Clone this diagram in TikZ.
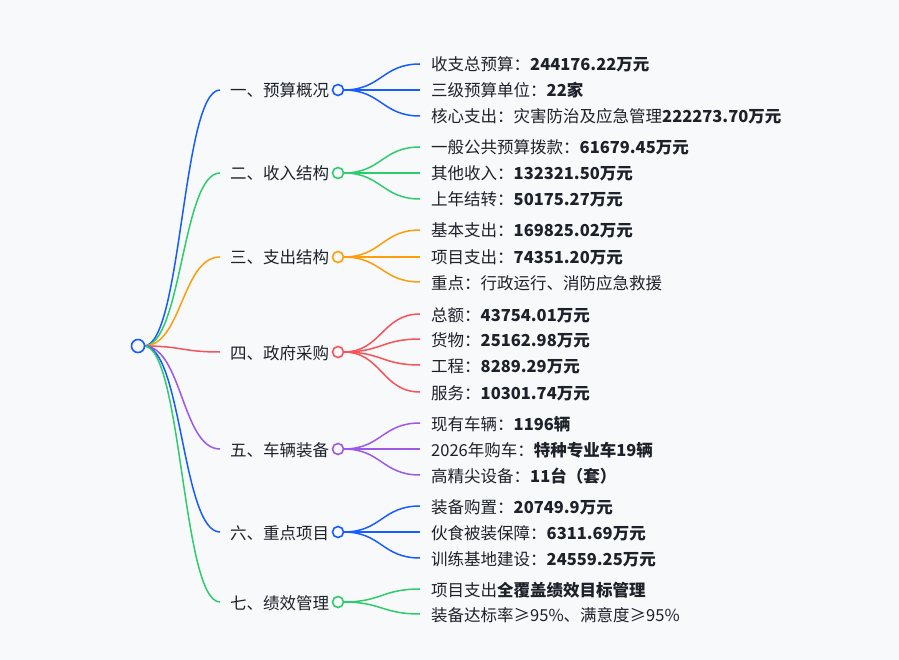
\documentclass[tikz,border=0pt]{standalone}
\usepackage{fontspec}
\setmainfont{Noto Sans CJK SC}
\definecolor{bg}{RGB}{248,249,251}
\definecolor{txt}{RGB}{29,33,41}
\definecolor{cblue}{RGB}{22,93,255}
\definecolor{cgreen}{RGB}{46,204,108}
\definecolor{corange}{RGB}{255,157,10}
\definecolor{cred}{RGB}{245,84,90}
\definecolor{cpurple}{RGB}{155,89,230}
\begin{document}
\begin{tikzpicture}[x=1pt,y=-1pt,
  every node/.style={font=\fontsize{16.5}{18}\selectfont, text=txt, inner ysep=0pt},
  leaf/.style={anchor=west, inner xsep=0pt, text height=1.0em, text depth=0.1em, xshift=11pt, yshift=-2.5pt},
  blabel/.style={anchor=west, inner xsep=0pt, text height=1.0em, text depth=0.1em, xshift=10pt, yshift=-2.5pt},
  knot/.style={circle, draw=#1, fill=bg, line width=1.6pt, minimum size=11pt, inner sep=0pt},
  link/.style={draw=#1, line width=1.5pt},
]
\fill[bg] (0,0) rectangle (899,660);
\useasboundingbox (0,0) rectangle (899,660);

% root
\coordinate (rootc) at (138,346);
% branch anchors
\coordinate (e1) at (220,90);
\coordinate (e2) at (220,173);
\coordinate (e3) at (220,257);
\coordinate (e4) at (220,352);
\coordinate (e5) at (220,449);
\coordinate (e6) at (220,532);
\coordinate (e7) at (220,602);

\node[blabel] (b1) at (e1) {一、预算概况};
\node[blabel] (b2) at (e2) {二、收入结构};
\node[blabel] (b3) at (e3) {三、支出结构};
\node[blabel] (b4) at (e4) {四、政府采购};
\node[blabel] (b5) at (e5) {五、车辆装备};
\node[blabel] (b6) at (e6) {六、重点项目};
\node[blabel] (b7) at (e7) {七、绩效管理};

% leaf anchors
\coordinate (a11) at (420,64);  \coordinate (a12) at (420,90);  \coordinate (a13) at (420,116);
\coordinate (a21) at (420,147); \coordinate (a22) at (420,173); \coordinate (a23) at (420,199);
\coordinate (a31) at (420,230); \coordinate (a32) at (420,257); \coordinate (a33) at (420,282);
\coordinate (a41) at (420,314); \coordinate (a42) at (420,339); \coordinate (a43) at (420,365); \coordinate (a44) at (420,392);
\coordinate (a51) at (420,423); \coordinate (a52) at (420,449); \coordinate (a53) at (420,475);
\coordinate (a61) at (420,506); \coordinate (a62) at (420,532); \coordinate (a63) at (420,558);
\coordinate (a71) at (420,589); \coordinate (a72) at (420,614);

\node[leaf] (l11) at (a11) {收支总预算：\textbf{244176.22万元}};
\node[leaf] (l12) at (a12) {三级预算单位：\textbf{22家}};
\node[leaf] (l13) at (a13) {核心支出：灾害防治及应急管理\textbf{222273.70万元}};
\node[leaf] (l21) at (a21) {一般公共预算拨款：\textbf{61679.45万元}};
\node[leaf] (l22) at (a22) {其他收入：\textbf{132321.50万元}};
\node[leaf] (l23) at (a23) {上年结转：\textbf{50175.27万元}};
\node[leaf] (l31) at (a31) {基本支出：\textbf{169825.02万元}};
\node[leaf] (l32) at (a32) {项目支出：\textbf{74351.20万元}};
\node[leaf] (l33) at (a33) {重点：行政运行、消防应急救援};
\node[leaf] (l41) at (a41) {总额：\textbf{43754.01万元}};
\node[leaf] (l42) at (a42) {货物：\textbf{25162.98万元}};
\node[leaf] (l43) at (a43) {工程：\textbf{8289.29万元}};
\node[leaf] (l44) at (a44) {服务：\textbf{10301.74万元}};
\node[leaf] (l51) at (a51) {现有车辆：\textbf{1196辆}};
\node[leaf] (l52) at (a52) {2026年购车：\textbf{特种专业车19辆}};
\node[leaf] (l53) at (a53) {高精尖设备：\textbf{11台（套）}};
\node[leaf] (l61) at (a61) {装备购置：\textbf{20749.9万元}};
\node[leaf] (l62) at (a62) {伙食被装保障：\textbf{6311.69万元}};
\node[leaf] (l63) at (a63) {训练基地建设：\textbf{24559.25万元}};
\node[leaf] (l71) at (a71) {项目支出\textbf{全覆盖绩效目标管理}};
\node[leaf] (l72) at (a72) {装备达标率≥95\%、满意度≥95\%};

% branch circles positions
\coordinate (k1p) at (338,90);
\coordinate (k2p) at (338,173);
\coordinate (k3p) at (338,257);
\coordinate (k4p) at (338,352);
\coordinate (k5p) at (338,449);
\coordinate (k6p) at (338,532);
\coordinate (k7p) at (338,602);

% root -> branch links
\foreach \i/\c in {1/cblue,2/cgreen,3/corange,4/cred,5/cpurple,6/cblue,7/cgreen}{
  \draw[link=\c] ([xshift=6pt]rootc) .. controls +(38,0) and +(-38,0) .. (e\i);
}
% branch -> leaf links
\foreach \i/\c/\n in {1/cblue/3,2/cgreen/3,3/corange/3,4/cred/4,5/cpurple/3,6/cblue/3,7/cgreen/2}{
  \foreach \j in {1,...,\n}{
    \draw[link=\c] ([xshift=5.5pt]k\i p) .. controls +(38,0) and +(-38,0) .. (a\i\j);
  }
}

% circles on top
\node[knot=cblue, minimum size=13pt] (root) at (rootc) {};
\node[knot=cblue] (k1) at (k1p) {};
\node[knot=cgreen] (k2) at (k2p) {};
\node[knot=corange] (k3) at (k3p) {};
\node[knot=cred] (k4) at (k4p) {};
\node[knot=cpurple] (k5) at (k5p) {};
\node[knot=cblue] (k6) at (k6p) {};
\node[knot=cgreen] (k7) at (k7p) {};
\end{tikzpicture}
\end{document}
